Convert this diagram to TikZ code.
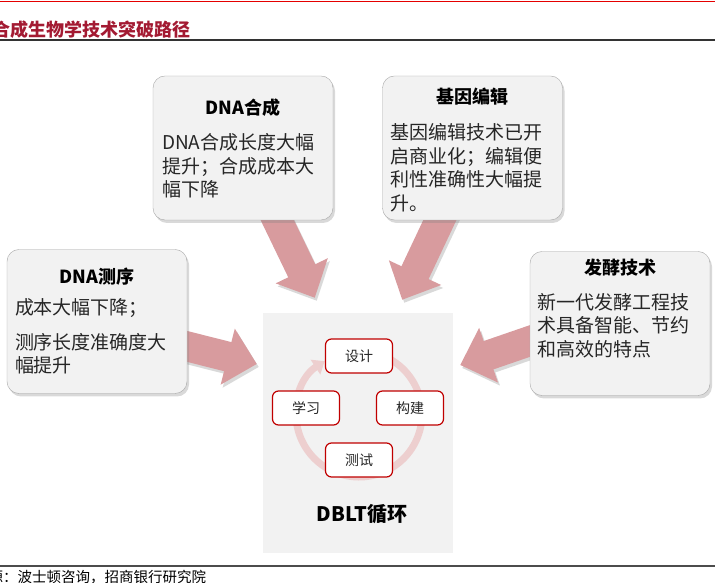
\documentclass[tikz,border=0pt]{standalone}
\usepackage{fontspec}
\setmainfont{Noto Sans CJK SC}
\usepackage{xcolor}
\usetikzlibrary{arrows.meta,shadows,backgrounds}
\definecolor{boxgray}{HTML}{F2F2F2}
\definecolor{boxline}{HTML}{A6A6A6}
\definecolor{arrowpink}{HTML}{D89B9E}
\definecolor{ringpink}{HTML}{EDCFCF}
\definecolor{loopred}{HTML}{C00000}
\definecolor{titlered}{HTML}{A31A32}
\definecolor{txt}{HTML}{262626}

\begin{document}
\begin{tikzpicture}[x=1pt,y=1pt,
  techbox/.style={draw=boxline,fill=boxgray,rounded corners=12pt,minimum width=180pt,minimum height=144pt,
    drop shadow={shadow xshift=2pt,shadow yshift=-3pt,opacity=0.3}},
  boxhead/.style={font=\bfseries\fontsize{18}{20}\selectfont,text=black,inner sep=0pt},
  boxtext/.style={font=\fontsize{19}{23.5}\selectfont,text=txt,align=left,anchor=north west,inner sep=0pt},
  stagebox/.style={draw=loopred,fill=white,rounded corners=6pt,line width=1.2pt,minimum width=67pt,
    minimum height=34pt,font=\fontsize{14}{16}\selectfont,text=txt},
  dbltpanel/.style={fill=boxgray,minimum width=190pt,minimum height=240pt,inner sep=0pt},
  loopring/.style={ringpink,line width=7pt,-{Triangle[width=17pt,length=11pt]}},
  bigarrow/.style={line width=30pt,-{Triangle[width=56pt,length=30pt]}},
  srcnote/.style={font=\fontsize{14.5}{16}\selectfont,inner sep=0pt,anchor=west}]
\useasboundingbox (0,0) rectangle (715,583);

% header and footer
\draw[red!90!black,line width=1.2pt] (0,581.5) -- (715,581.5);
\node[font=\bfseries\fontsize{18}{20}\selectfont,text=titlered,inner sep=0pt,anchor=west] (title) at (-8,553) {合成生物学技术突破路径};
\draw[black!80,line width=1.8pt] (0,543) -- (715,543);
\draw[black!70,line width=1.8pt] (0,17) -- (715,17);
\node[srcnote] (src) at (-11.5,6) {源：波士顿咨询，招商银行研究院};

% DBLT loop
\node[dbltpanel] (panel) at (358,150) {};
\coordinate (loop) at (359,169);
\draw[loopring] (loop) ++(118:63) arc[start angle=118,end angle=-237,radius=63];
\node[stagebox] (design) at (359,227) {设计};
\node[stagebox] (build) at (410,175) {构建};
\node[stagebox] (test) at (359,123) {测试};
\node[stagebox] (learn) at (306,175) {学习};
\node[font=\bfseries\fontsize{20}{22}\selectfont,text=black] (dblt) at (362,69) {DBLT循环};

% technology boxes
\node[techbox] (synth) at (243,435) {};
\node[boxhead] (synthH) at ([yshift=-32pt]synth.north) {DNA合成};
\node[boxtext] (synthB) at ([shift={(9pt,-57.5pt)}]synth.north west) {DNA合成长度大幅\\提升；合成成本大\\幅下降};

\node[techbox] (gene) at (472.5,435) {};
\node[boxhead] (geneH) at ([yshift=-21pt]gene.north) {基因编辑};
\node[boxtext] (geneB) at ([shift={(8pt,-47.5pt)}]gene.north west) {基因编辑技术已开\\启商业化；编辑便\\利性准确性大幅提\\升。};

\node[techbox] (seq) at (97,261.5) {};
\node[boxhead] (seqH) at ([yshift=-27pt]seq.north) {DNA测序};
\node[boxtext] (seqB) at ([shift={(8pt,-49.5pt)}]seq.north west) {成本大幅下降；\\[11pt]测序长度准确度大\\幅提升};

\node[techbox] (ferm) at (620,259.5) {};
\node[boxhead] (fermH) at ([yshift=-16pt]ferm.north) {发酵技术};
\node[boxtext] (fermB) at ([shift={(7pt,-41.5pt)}]ferm.north west) {新一代发酵工程技\\术具备智能、节约\\和高效的特点};

% arrows into the loop
\coordinate (synthOut) at ([shift={(29pt,11pt)}]synth.south);
\coordinate (synthIn) at ([shift={(52pt,15pt)}]panel.north west);
\coordinate (geneOut) at ([shift={(-27.5pt,11pt)}]gene.south);
\coordinate (geneIn) at ([shift={(-51pt,13pt)}]panel.north east);
\coordinate (seqOut) at ([shift={(-11.6pt,-22pt)}]seq.east);
\coordinate (seqIn) at ([shift={(-6pt,69pt)}]panel.west);
\coordinate (fermOut) at ([shift={(11.4pt,-13.6pt)}]ferm.west);
\coordinate (fermIn) at ([shift={(7pt,68pt)}]panel.east);
\begin{pgfonlayer}{background}
\foreach \from/\to in {synthOut/synthIn,geneOut/geneIn,seqOut/seqIn,fermOut/fermIn}{
  \draw[bigarrow,black!15,transform canvas={shift={(2pt,-3pt)}}] (\from) -- (\to);
  \draw[bigarrow,arrowpink] (\from) -- (\to);
}
\end{pgfonlayer}
\end{tikzpicture}
\end{document}
